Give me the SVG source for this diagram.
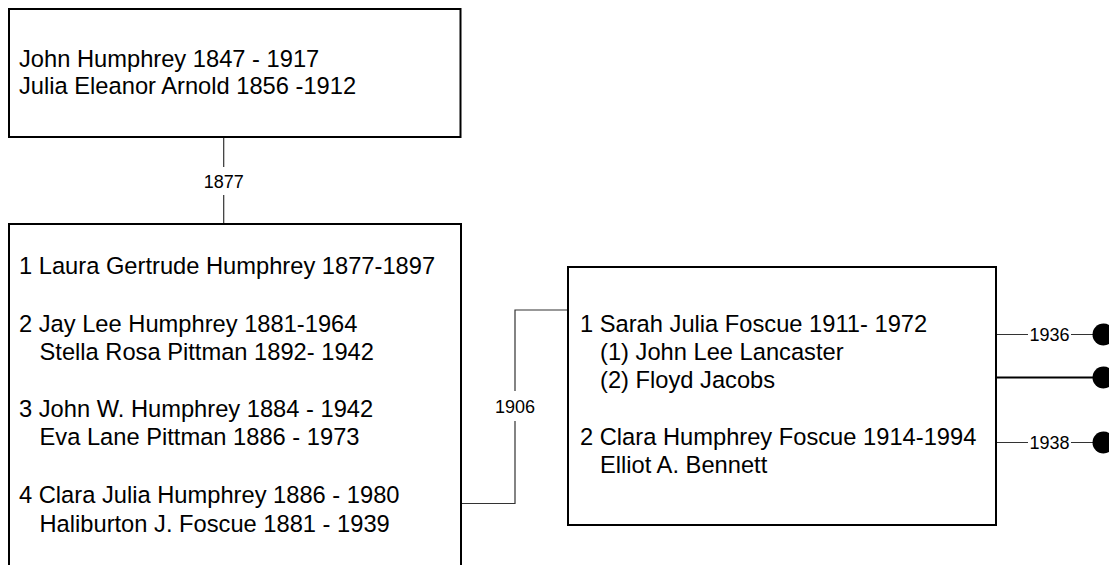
<svg xmlns="http://www.w3.org/2000/svg" width="1109" height="565" viewBox="0 0 1109 565">
<style>
.box{fill:#fff;stroke:#000;stroke-width:2}
.t{font-family:"Liberation Sans",Arial,sans-serif;font-size:23.7px;fill:#000}
.lbl{font-family:"Liberation Sans",Arial,sans-serif;font-size:18px;fill:#000;text-anchor:middle}
.c{fill:none;stroke:#333;stroke-width:1.2}
.dot{fill:#000}
</style>
<rect width="1109" height="565" fill="#fff"/>
<g id="connectors">
<path class="c" d="M223.7,137 V167 M223.7,195 V224"/>
<text class="lbl" x="223.7" y="188">1877</text>
<path class="c" d="M461,503.5 H515 V421 M515,391 V310 H568"/>
<text class="lbl" x="515" y="413">1906</text>
<path class="c" d="M996,334.5 H1028 M1071,334.5 H1093"/>
<text class="lbl" x="1049.5" y="341">1936</text>
<path class="c" d="M996,377.5 H1093" style="stroke-width:2;stroke:#000"/>
<path class="c" d="M996,442.5 H1028 M1071,442.5 H1093"/>
<text class="lbl" x="1049.5" y="449">1938</text>
<circle class="dot" cx="1103.5" cy="334.5" r="11"/>
<circle class="dot" cx="1103.5" cy="377.5" r="11"/>
<circle class="dot" cx="1103.5" cy="442.5" r="11"/>
</g>
<g id="node-parents">
<rect class="box" x="9" y="9" width="451.5" height="128"/>
<text class="t" x="19" y="66.5">John Humphrey 1847 - 1917</text>
<text class="t" x="19" y="94.3">Julia Eleanor Arnold 1856 -1912</text>
</g>
<g id="node-children">
<rect class="box" x="9" y="224" width="452" height="400"/>
<text class="t" x="19" y="274">1 Laura Gertrude Humphrey 1877-1897</text>
<text class="t" x="19" y="331.5">2 Jay Lee Humphrey 1881-1964</text>
<text class="t" x="39.5" y="359.5">Stella Rosa Pittman 1892- 1942</text>
<text class="t" x="19" y="416.7">3 John W. Humphrey 1884 - 1942</text>
<text class="t" x="39.5" y="445">Eva Lane Pittman 1886 - 1973</text>
<text class="t" x="19" y="503">4 Clara Julia Humphrey 1886 - 1980</text>
<text class="t" x="39.5" y="531.5">Haliburton J. Foscue 1881 - 1939</text>
</g>
<g id="node-grandchildren">
<rect class="box" x="568" y="267" width="428" height="258"/>
<text class="t" x="580" y="331.7">1 Sarah Julia Foscue 1911- 1972</text>
<text class="t" x="600" y="360">(1) John Lee Lancaster</text>
<text class="t" x="600" y="387.7">(2) Floyd Jacobs</text>
<text class="t" x="580" y="445">2 Clara Humphrey Foscue 1914-1994</text>
<text class="t" x="600" y="473.3">Elliot A. Bennett</text>
</g>
</svg>
